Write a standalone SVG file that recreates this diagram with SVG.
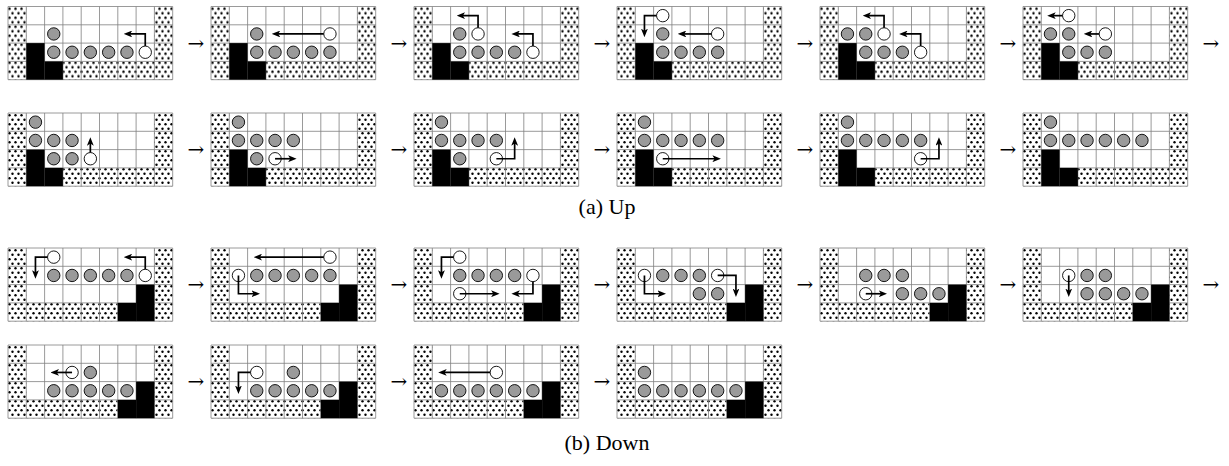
<svg xmlns="http://www.w3.org/2000/svg" width="1229" height="466" viewBox="0 0 1229 466">
<style>
.g{fill:#9a9a9a;stroke:#000;stroke-width:0.9}
.w{fill:#fff;stroke:#000;stroke-width:0.9}
.mv{fill:none;stroke:#000;stroke-width:1.7;marker-end:url(#ah)}
.grid{fill:none;stroke:#808080;stroke-width:0.8}
.to{font-family:"DejaVu Serif",serif;font-size:20px;text-anchor:middle;fill:#000}
.cap{font-family:"Liberation Serif",serif;font-size:22px;text-anchor:middle;fill:#000}
</style>
<defs>
<pattern id="dots" width="6" height="9" patternUnits="userSpaceOnUse"><rect width="6" height="9" fill="#fff"/><circle cx="1.5" cy="2.25" r="1.2"/><circle cx="4.5" cy="6.75" r="1.2"/></pattern>
<marker id="ah" viewBox="0 0 10 8" refX="5" refY="4" markerWidth="8.5" markerHeight="6.8" markerUnits="userSpaceOnUse" orient="auto"><path d="M0,0L10,4L0,8L2.5,4z"/></marker>
<path id="gl" class="grid" d="M0,0V73.2M18.3,0V73.2M36.6,0V73.2M54.9,0V73.2M73.2,0V73.2M91.5,0V73.2M109.8,0V73.2M128.1,0V73.2M146.4,0V73.2M164.7,0V73.2M0,0H164.7M0,18.3H164.7M0,36.6H164.7M0,54.9H164.7M0,73.2H164.7"/>
<g id="boardA">
<rect width="164.7" height="73.2" fill="#fff"/>
<rect width="18.3" height="73.2" fill="url(#dots)"/>
<rect x="146.4" width="18.3" height="73.2" fill="url(#dots)"/>
<rect x="54.9" y="54.9" width="91.5" height="18.3" fill="url(#dots)"/>
<use href="#gl"/>
<rect x="18.3" y="36.6" width="18.3" height="36.6" fill="#000"/>
<rect x="36.6" y="54.9" width="18.3" height="18.3" fill="#000"/>
</g>
<g id="boardB">
<rect width="164.7" height="73.2" fill="#fff"/>
<rect width="18.3" height="73.2" fill="url(#dots)"/>
<rect x="146.4" width="18.3" height="73.2" fill="url(#dots)"/>
<rect x="18.3" y="54.9" width="91.5" height="18.3" fill="url(#dots)"/>
<use href="#gl"/>
<rect x="128.1" y="36.6" width="18.3" height="36.6" fill="#000"/>
<rect x="109.8" y="54.9" width="18.3" height="18.3" fill="#000"/>
</g>
</defs>

<!-- (a) Up, row 1 -->
<g id="a1" transform="translate(8,6.5)"><use href="#boardA"/>
<circle class="g" cx="45.75" cy="27.45" r="6.2"/><circle class="g" cx="45.75" cy="45.75" r="6.2"/><circle class="g" cx="64.05" cy="45.75" r="6.2"/><circle class="g" cx="82.35" cy="45.75" r="6.2"/><circle class="g" cx="100.65" cy="45.75" r="6.2"/><circle class="g" cx="118.95" cy="45.75" r="6.2"/>
<circle class="w" cx="137.25" cy="45.75" r="6.2"/>
<path class="mv" d="M137.25,39.55V27.45H119.95"/></g>

<g id="a2" transform="translate(211,6.5)"><use href="#boardA"/>
<circle class="g" cx="45.75" cy="27.45" r="6.2"/><circle class="g" cx="45.75" cy="45.75" r="6.2"/><circle class="g" cx="64.05" cy="45.75" r="6.2"/><circle class="g" cx="82.35" cy="45.75" r="6.2"/><circle class="g" cx="100.65" cy="45.75" r="6.2"/><circle class="g" cx="118.95" cy="45.75" r="6.2"/>
<circle class="w" cx="118.95" cy="27.45" r="6.2"/>
<path class="mv" d="M112.75,27.45H65.05"/></g>

<g id="a3" transform="translate(414,6.5)"><use href="#boardA"/>
<circle class="g" cx="45.75" cy="27.45" r="6.2"/><circle class="g" cx="45.75" cy="45.75" r="6.2"/><circle class="g" cx="64.05" cy="45.75" r="6.2"/><circle class="g" cx="82.35" cy="45.75" r="6.2"/><circle class="g" cx="100.65" cy="45.75" r="6.2"/>
<circle class="w" cx="64.05" cy="27.45" r="6.2"/><circle class="w" cx="118.95" cy="45.75" r="6.2"/>
<path class="mv" d="M64.05,21.25V9.15H46.75"/><path class="mv" d="M118.95,39.55V27.45H101.65"/></g>

<g id="a4" transform="translate(617,6.5)"><use href="#boardA"/>
<circle class="g" cx="45.75" cy="27.45" r="6.2"/><circle class="g" cx="45.75" cy="45.75" r="6.2"/><circle class="g" cx="64.05" cy="45.75" r="6.2"/><circle class="g" cx="82.35" cy="45.75" r="6.2"/><circle class="g" cx="100.65" cy="45.75" r="6.2"/>
<circle class="w" cx="45.75" cy="9.15" r="6.2"/><circle class="w" cx="100.65" cy="27.45" r="6.2"/>
<path class="mv" d="M39.55,9.15H27.45V26.45"/><path class="mv" d="M94.45,27.45H65.05"/></g>

<g id="a5" transform="translate(820,6.5)"><use href="#boardA"/>
<circle class="g" cx="27.45" cy="27.45" r="6.2"/><circle class="g" cx="45.75" cy="27.45" r="6.2"/><circle class="g" cx="45.75" cy="45.75" r="6.2"/><circle class="g" cx="64.05" cy="45.75" r="6.2"/><circle class="g" cx="82.35" cy="45.75" r="6.2"/>
<circle class="w" cx="64.05" cy="27.45" r="6.2"/><circle class="w" cx="100.65" cy="45.75" r="6.2"/>
<path class="mv" d="M64.05,21.25V9.15H46.75"/><path class="mv" d="M100.65,39.55V27.45H83.35"/></g>

<g id="a6" transform="translate(1023,6.5)"><use href="#boardA"/>
<circle class="g" cx="27.45" cy="27.45" r="6.2"/><circle class="g" cx="45.75" cy="27.45" r="6.2"/><circle class="g" cx="45.75" cy="45.75" r="6.2"/><circle class="g" cx="64.05" cy="45.75" r="6.2"/><circle class="g" cx="82.35" cy="45.75" r="6.2"/>
<circle class="w" cx="45.75" cy="9.15" r="6.2"/><circle class="w" cx="82.35" cy="27.45" r="6.2"/>
<path class="mv" d="M39.55,9.15H28.45"/><path class="mv" d="M76.15,27.45H65.05"/></g>

<!-- (a) Up, row 2 -->
<g id="a7" transform="translate(8,113)"><use href="#boardA"/>
<circle class="g" cx="27.45" cy="9.15" r="6.2"/><circle class="g" cx="27.45" cy="27.45" r="6.2"/><circle class="g" cx="45.75" cy="27.45" r="6.2"/><circle class="g" cx="64.05" cy="27.45" r="6.2"/><circle class="g" cx="45.75" cy="45.75" r="6.2"/><circle class="g" cx="64.05" cy="45.75" r="6.2"/>
<circle class="w" cx="82.35" cy="45.75" r="6.2"/>
<path class="mv" d="M82.35,39.55V28.45"/></g>

<g id="a8" transform="translate(211,113)"><use href="#boardA"/>
<circle class="g" cx="27.45" cy="9.15" r="6.2"/><circle class="g" cx="27.45" cy="27.45" r="6.2"/><circle class="g" cx="45.75" cy="27.45" r="6.2"/><circle class="g" cx="64.05" cy="27.45" r="6.2"/><circle class="g" cx="82.35" cy="27.45" r="6.2"/><circle class="g" cx="45.75" cy="45.75" r="6.2"/>
<circle class="w" cx="64.05" cy="45.75" r="6.2"/>
<path class="mv" d="M64.05,45.75H81.35"/></g>

<g id="a9" transform="translate(414,113)"><use href="#boardA"/>
<circle class="g" cx="27.45" cy="9.15" r="6.2"/><circle class="g" cx="27.45" cy="27.45" r="6.2"/><circle class="g" cx="45.75" cy="27.45" r="6.2"/><circle class="g" cx="64.05" cy="27.45" r="6.2"/><circle class="g" cx="82.35" cy="27.45" r="6.2"/><circle class="g" cx="45.75" cy="45.75" r="6.2"/>
<circle class="w" cx="82.35" cy="45.75" r="6.2"/>
<path class="mv" d="M82.35,45.75H100.65V28.45"/></g>

<g id="a10" transform="translate(617,113)"><use href="#boardA"/>
<circle class="g" cx="27.45" cy="9.15" r="6.2"/><circle class="g" cx="27.45" cy="27.45" r="6.2"/><circle class="g" cx="45.75" cy="27.45" r="6.2"/><circle class="g" cx="64.05" cy="27.45" r="6.2"/><circle class="g" cx="82.35" cy="27.45" r="6.2"/><circle class="g" cx="100.65" cy="27.45" r="6.2"/>
<circle class="w" cx="45.75" cy="45.75" r="6.2"/>
<path class="mv" d="M45.75,45.75H99.65"/></g>

<g id="a11" transform="translate(820,113)"><use href="#boardA"/>
<circle class="g" cx="27.45" cy="9.15" r="6.2"/><circle class="g" cx="27.45" cy="27.45" r="6.2"/><circle class="g" cx="45.75" cy="27.45" r="6.2"/><circle class="g" cx="64.05" cy="27.45" r="6.2"/><circle class="g" cx="82.35" cy="27.45" r="6.2"/><circle class="g" cx="100.65" cy="27.45" r="6.2"/>
<circle class="w" cx="100.65" cy="45.75" r="6.2"/>
<path class="mv" d="M100.65,45.75H118.95V28.45"/></g>

<g id="a12" transform="translate(1023,113)"><use href="#boardA"/>
<circle class="g" cx="27.45" cy="9.15" r="6.2"/><circle class="g" cx="27.45" cy="27.45" r="6.2"/><circle class="g" cx="45.75" cy="27.45" r="6.2"/><circle class="g" cx="64.05" cy="27.45" r="6.2"/><circle class="g" cx="82.35" cy="27.45" r="6.2"/><circle class="g" cx="100.65" cy="27.45" r="6.2"/><circle class="g" cx="118.95" cy="27.45" r="6.2"/></g>

<!-- (b) Down, row 1 -->
<g id="b1" transform="translate(8,248)"><use href="#boardB"/>
<circle class="g" cx="45.75" cy="27.45" r="6.2"/><circle class="g" cx="64.05" cy="27.45" r="6.2"/><circle class="g" cx="82.35" cy="27.45" r="6.2"/><circle class="g" cx="100.65" cy="27.45" r="6.2"/><circle class="g" cx="118.95" cy="27.45" r="6.2"/>
<circle class="w" cx="45.75" cy="9.15" r="6.2"/><circle class="w" cx="137.25" cy="27.45" r="6.2"/>
<path class="mv" d="M39.55,9.15H27.45V26.45"/><path class="mv" d="M137.25,21.25V9.15H119.95"/></g>

<g id="b2" transform="translate(211,248)"><use href="#boardB"/>
<circle class="g" cx="45.75" cy="27.45" r="6.2"/><circle class="g" cx="64.05" cy="27.45" r="6.2"/><circle class="g" cx="82.35" cy="27.45" r="6.2"/><circle class="g" cx="100.65" cy="27.45" r="6.2"/><circle class="g" cx="118.95" cy="27.45" r="6.2"/>
<circle class="w" cx="118.95" cy="9.15" r="6.2"/><circle class="w" cx="27.45" cy="27.45" r="6.2"/>
<path class="mv" d="M112.75,9.15H46.75"/><path class="mv" d="M27.45,27.45V45.75H44.75"/></g>

<g id="b3" transform="translate(414,248)"><use href="#boardB"/>
<circle class="g" cx="45.75" cy="27.45" r="6.2"/><circle class="g" cx="64.05" cy="27.45" r="6.2"/><circle class="g" cx="82.35" cy="27.45" r="6.2"/><circle class="g" cx="100.65" cy="27.45" r="6.2"/>
<circle class="w" cx="45.75" cy="9.15" r="6.2"/><circle class="w" cx="118.95" cy="27.45" r="6.2"/><circle class="w" cx="45.75" cy="45.75" r="6.2"/>
<path class="mv" d="M39.55,9.15H27.45V26.45"/><path class="mv" d="M118.95,33.65V45.75H101.65"/><path class="mv" d="M45.75,45.75H81.35"/></g>

<g id="b4" transform="translate(617,248)"><use href="#boardB"/>
<circle class="g" cx="45.75" cy="27.45" r="6.2"/><circle class="g" cx="64.05" cy="27.45" r="6.2"/><circle class="g" cx="82.35" cy="27.45" r="6.2"/><circle class="g" cx="82.35" cy="45.75" r="6.2"/><circle class="g" cx="100.65" cy="45.75" r="6.2"/>
<circle class="w" cx="27.45" cy="27.45" r="6.2"/><circle class="w" cx="100.65" cy="27.45" r="6.2"/>
<path class="mv" d="M27.45,27.45V45.75H44.75"/><path class="mv" d="M100.65,27.45H118.95V44.75"/></g>

<g id="b5" transform="translate(820,248)"><use href="#boardB"/>
<circle class="g" cx="45.75" cy="27.45" r="6.2"/><circle class="g" cx="64.05" cy="27.45" r="6.2"/><circle class="g" cx="82.35" cy="27.45" r="6.2"/><circle class="g" cx="82.35" cy="45.75" r="6.2"/><circle class="g" cx="100.65" cy="45.75" r="6.2"/><circle class="g" cx="118.95" cy="45.75" r="6.2"/>
<circle class="w" cx="45.75" cy="45.75" r="6.2"/>
<path class="mv" d="M45.75,45.75H63.05"/></g>

<g id="b6" transform="translate(1023,248)"><use href="#boardB"/>
<circle class="g" cx="64.05" cy="27.45" r="6.2"/><circle class="g" cx="82.35" cy="27.45" r="6.2"/><circle class="g" cx="64.05" cy="45.75" r="6.2"/><circle class="g" cx="82.35" cy="45.75" r="6.2"/><circle class="g" cx="100.65" cy="45.75" r="6.2"/><circle class="g" cx="118.95" cy="45.75" r="6.2"/>
<circle class="w" cx="45.75" cy="27.45" r="6.2"/>
<path class="mv" d="M45.75,27.45V44.75"/></g>

<!-- (b) Down, row 2 -->
<g id="b7" transform="translate(8,345)"><use href="#boardB"/>
<circle class="g" cx="82.35" cy="27.45" r="6.2"/><circle class="g" cx="45.75" cy="45.75" r="6.2"/><circle class="g" cx="64.05" cy="45.75" r="6.2"/><circle class="g" cx="82.35" cy="45.75" r="6.2"/><circle class="g" cx="100.65" cy="45.75" r="6.2"/><circle class="g" cx="118.95" cy="45.75" r="6.2"/>
<circle class="w" cx="64.05" cy="27.45" r="6.2"/>
<path class="mv" d="M64.05,27.45H46.75"/></g>

<g id="b8" transform="translate(211,345)"><use href="#boardB"/>
<circle class="g" cx="82.35" cy="27.45" r="6.2"/><circle class="g" cx="45.75" cy="45.75" r="6.2"/><circle class="g" cx="64.05" cy="45.75" r="6.2"/><circle class="g" cx="82.35" cy="45.75" r="6.2"/><circle class="g" cx="100.65" cy="45.75" r="6.2"/><circle class="g" cx="118.95" cy="45.75" r="6.2"/>
<circle class="w" cx="45.75" cy="27.45" r="6.2"/>
<path class="mv" d="M39.55,27.45H27.45V44.75"/></g>

<g id="b9" transform="translate(414,345)"><use href="#boardB"/>
<circle class="g" cx="27.45" cy="45.75" r="6.2"/><circle class="g" cx="45.75" cy="45.75" r="6.2"/><circle class="g" cx="64.05" cy="45.75" r="6.2"/><circle class="g" cx="82.35" cy="45.75" r="6.2"/><circle class="g" cx="100.65" cy="45.75" r="6.2"/><circle class="g" cx="118.95" cy="45.75" r="6.2"/>
<circle class="w" cx="82.35" cy="27.45" r="6.2"/>
<path class="mv" d="M76.15,27.45H28.45"/></g>

<g id="b10" transform="translate(617,345)"><use href="#boardB"/>
<circle class="g" cx="27.45" cy="27.45" r="6.2"/><circle class="g" cx="27.45" cy="45.75" r="6.2"/><circle class="g" cx="45.75" cy="45.75" r="6.2"/><circle class="g" cx="64.05" cy="45.75" r="6.2"/><circle class="g" cx="82.35" cy="45.75" r="6.2"/><circle class="g" cx="100.65" cy="45.75" r="6.2"/><circle class="g" cx="118.95" cy="45.75" r="6.2"/></g>

<g id="connectors">
<text class="to" x="196" y="49.5">→</text><text class="to" x="399" y="49.5">→</text><text class="to" x="602" y="49.5">→</text><text class="to" x="805" y="49.5">→</text><text class="to" x="1008" y="49.5">→</text><text class="to" x="1211" y="49.5">→</text>
<text class="to" x="196" y="156">→</text><text class="to" x="399" y="156">→</text><text class="to" x="602" y="156">→</text><text class="to" x="805" y="156">→</text><text class="to" x="1008" y="156">→</text>
<text class="to" x="196" y="291">→</text><text class="to" x="399" y="291">→</text><text class="to" x="602" y="291">→</text><text class="to" x="805" y="291">→</text><text class="to" x="1008" y="291">→</text><text class="to" x="1211" y="291">→</text>
<text class="to" x="196" y="388">→</text><text class="to" x="399" y="388">→</text><text class="to" x="602" y="388">→</text>
</g>

<text class="cap" x="607" y="214">(a) Up</text>
<text class="cap" x="607" y="450">(b) Down</text>
</svg>
